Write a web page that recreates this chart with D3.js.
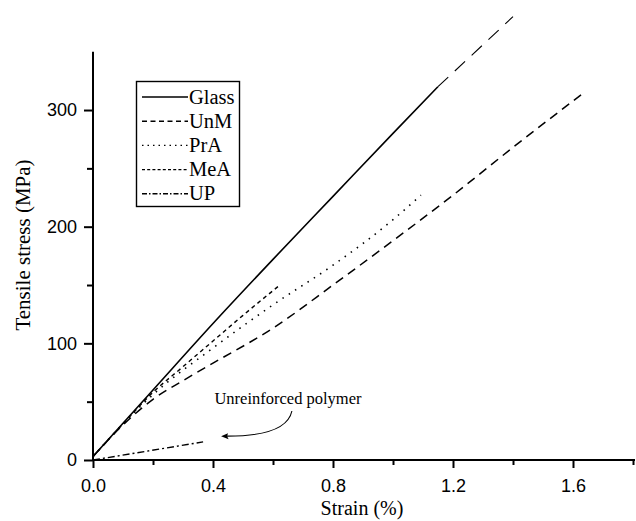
<!DOCTYPE html>
<html><head><meta charset="utf-8">
<script src="https://cdn.jsdelivr.net/npm/d3@7"></script>
<style>body{margin:0;background:#fff}svg{display:block}</style>
</head><body>
<script>
// ---- data (strain %, stress MPa) ----
const glassX = [0, 0.2, 0.4, 0.6, 0.8, 1.0, 1.15];
const glassY = [3, 60, 117, 172, 226, 280, 320];
const glassExtX = [1.15, 1.40];
const glassExtY = [320, 380];
const unmX = [0, 0.1, 0.2, 0.3, 0.4, 0.6, 0.8, 1.0, 1.2, 1.4, 1.637];
const unmY = [3, 30, 52, 68, 83, 113, 150, 188, 227, 268, 315];
const praX = [0, 0.1, 0.2, 0.4, 0.6, 0.8, 1.0, 1.093];
const praY = [3, 31, 56, 96, 133, 167, 206, 227];
const meaX = [0, 0.1, 0.2, 0.3, 0.4, 0.5, 0.623];
const meaY = [3, 31, 58, 80, 102, 124, 150];
const upX = [0, 0.367];
const upY = [0, 15.5];
const seriesNames = ["Glass", "UnM", "PrA", "MeA", "UP"];
const xTicks = [0, 0.4, 0.8, 1.2, 1.6];
const xMinor = [0.2, 0.6, 1.0, 1.4, 1.8];
const yTicks = [0, 100, 200, 300];
const yMinor = [50, 150, 250];
const annText = "Unreinforced polymer";

const W = 636, H = 521;
const svg = d3.select("body").append("svg").attr("width", W).attr("height", H);
const x = d3.scaleLinear().domain([0, 1.8]).range([93, 633]);
const y = d3.scaleLinear().domain([0, 350]).range([460, 51.7]);

const zip = (a, b) => a.map((v, i) => [v, b[i]]);
const line = d3.line().x(d => x(d[0])).y(d => y(d[1])).curve(d3.curveMonotoneX);

const styles = {
  Glass: {dash: null, w: 1.6},
  UnM: {dash: "9,6", w: 1.5},
  PrA: {dash: "1.5,6", w: 1.6},
  MeA: {dash: "4,3.5", w: 1.4},
  UP: {dash: "7,3,2,3", w: 1.4}
};
const data = {
  Glass: zip(glassX, glassY), UnM: zip(unmX, unmY), PrA: zip(praX, praY),
  MeA: zip(meaX, meaY), UP: zip(upX, upY)
};

// extension of glass
svg.append("path").attr("d", line(zip(glassExtX, glassExtY)))
  .attr("fill", "none").attr("stroke", "#000").attr("stroke-width", 1.1)
  .attr("stroke-dasharray", "14,9");

seriesNames.forEach(n => {
  svg.append("path").attr("d", line(data[n])).attr("fill", "none")
    .attr("stroke", "#000").attr("stroke-width", styles[n].w)
    .attr("stroke-dasharray", styles[n].dash);
});

// axes
const fontTick = "'Liberation Sans', Arial, sans-serif";
const fontSerif = "'Liberation Serif', 'Times New Roman', serif";
const xAxis = svg.append("g").attr("transform", `translate(0,${y(0)})`)
  .call(d3.axisBottom(x).tickValues(xTicks).tickSize(8).tickFormat(d3.format(".1f")));
const xAxisMinor = svg.append("g").attr("transform", `translate(0,${y(0)})`)
  .call(d3.axisBottom(x).tickValues(xMinor).tickSize(5).tickFormat(""));
const yAxis = svg.append("g").attr("transform", `translate(${x(0)},0)`)
  .call(d3.axisLeft(y).tickValues(yTicks).tickSize(9));
const yAxisMinor = svg.append("g").attr("transform", `translate(${x(0)},0)`)
  .call(d3.axisLeft(y).tickValues(yMinor).tickSize(6).tickFormat(""));
[xAxis, xAxisMinor, yAxis, yAxisMinor].forEach(g => {
  g.selectAll("line").attr("stroke", "#000").attr("stroke-width", 2);
  g.selectAll("text").attr("font-family", fontTick).attr("font-size", 18).attr("fill", "#000");
});
xAxisMinor.select(".domain").remove();
yAxisMinor.select(".domain").remove();
xAxis.select(".domain").attr("d", `M${x(0)},0H635`).attr("stroke-width", 2);
yAxis.select(".domain").attr("d", `M0,${y(0)}V${y(350)}`).attr("stroke-width", 2);
xAxis.selectAll("text").attr("dy", "0").attr("y", 32);
yAxis.selectAll("text").attr("x", -16);

svg.append("text").attr("x", 362).attr("y", 515).attr("text-anchor", "middle")
  .attr("font-family", fontSerif).attr("font-size", 20).text("Strain (%)");
svg.append("text").attr("transform", `translate(30,245) rotate(-90)`).attr("text-anchor", "middle")
  .attr("font-family", fontSerif).attr("font-size", 21).text("Tensile stress (MPa)");

// legend
const lg = svg.append("g");
lg.append("rect").attr("x", 136.5).attr("y", 81.5).attr("width", 103).attr("height", 125)
  .attr("fill", "#fff").attr("stroke", "#000").attr("stroke-width", 1.4);
const legendDash = {Glass: null, UnM: "5,3.5", PrA: "1.5,4", MeA: "3,2.2", UP: "5,2,1.5,2"};
seriesNames.forEach((n, i) => {
  const yy = 97 + i * 24.2;
  lg.append("line").attr("x1", 142).attr("x2", 188).attr("y1", yy).attr("y2", yy)
    .attr("stroke", "#000").attr("stroke-width", 1.4).attr("stroke-dasharray", legendDash[n]);
  lg.append("text").attr("x", 189).attr("y", yy + 6.5).attr("font-family", fontSerif)
    .attr("font-size", 20.5).text(n);
});

// annotation
svg.append("text").attr("x", x(0.65)).attr("y", y(48)).attr("text-anchor", "middle")
  .attr("font-family", fontSerif).attr("font-size", 16.5).text(annText);
const p0 = [x(0.663), y(42)], pc = [x(0.645), y(20)], p1 = [x(0.44), y(20.5)];
svg.append("path").attr("d", `M${p0[0]},${p0[1]}Q${pc[0]},${pc[1]} ${p1[0]},${p1[1]}`)
  .attr("fill", "none").attr("stroke", "#000").attr("stroke-width", 1.1);
svg.append("path").attr("d", `M${x(0.427)},${y(20.3)}L${x(0.45)},${y(23)}L${x(0.447)},${y(20.4)}L${x(0.452)},${y(17.7)}Z`)
  .attr("fill", "#000");
</script>
</body></html>
